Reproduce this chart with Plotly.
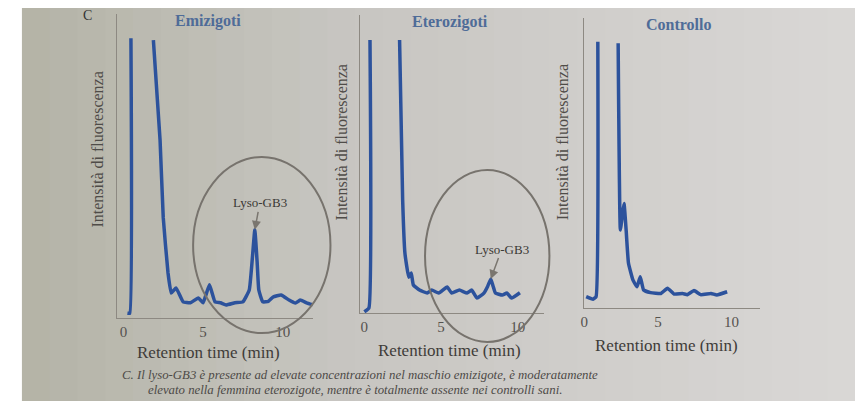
import plotly.graph_objects as go

# ---------------- data ----------------
panel_titles = ["Emizigoti", "Eterozigoti", "Controllo"]
x_tick_vals = [0, 5, 10]
x_tick_text = ["0", "5", "10"]
x_title = "Retention time (min)"
y_title = "Intensità di fluorescenza"
peak_label = "Lyso-GB3"

# Emizigoti (retention time in min, fluorescence in arbitrary units 0-100)
emi_t = [0.25, 0.40, 0.47, None, 1.88, 2.3, 2.5, 2.8, 3.0, 3.3, 3.75, 4.2, 4.7, 5.0, 5.4,
         5.75, 6.1, 6.45, 7.0, 7.5, 7.9, 8.1, 8.25, 8.4, 8.5, 8.75, 9.1, 9.4, 9.9, 10.4,
         10.8, 11.1, 11.5, 11.9]
emi_v = [1.6, 1.6, 92, None, 91.4, 58.5, 33, 14.8, 8.2, 9.9, 5.3, 5.0, 6.6, 5.0, 10.9,
         5.3, 5.0, 4.3, 5.0, 5.3, 9.2, 20, 29, 18, 9.2, 5.3, 5.5, 6.9, 7.6, 5.9,
         4.9, 5.9, 5.0, 4.3]

# Eterozigoti
etero_t = [0.0, 0.3, 0.37, None, 2.3, 2.5, 2.65, 2.9, 3.06, 3.2, 3.6, 4.1, 4.4, 4.85, 5.4,
           5.7, 6.2, 6.7, 7.0, 7.35, 7.8, 8.05, 8.25, 8.4, 8.55, 9.0, 9.3, 9.6, 10.15]
etero_v = [0.4, 1.7, 91.6, None, 91.6, 38, 20, 12, 13.4, 9.4, 7.7, 6.7, 7.7, 6.7, 8.7,
           6.7, 7.7, 6.7, 7.7, 5.0, 6.7, 9.0, 11.4, 9.0, 6.7, 6.0, 6.7, 5.0, 6.8]

# Controllo
ctrl_t = [0.13, 0.59, 0.8, 0.92, None, 2.3, 2.45, 2.6, 2.7, 2.84, 3.0, 3.3, 3.58, 3.8, 4.03,
          4.5, 5.2, 5.65, 6.1, 6.67, 7.0, 7.45, 7.9, 8.6, 9.0, 9.7]
ctrl_v = [3.9, 3.0, 3.9, 91.8, None, 91.3, 26.9, 32.7, 36, 27, 15.5, 9.7, 7.3, 10.8, 6.2,
          5.3, 5.0, 6.8, 4.8, 5.0, 4.6, 6.0, 4.6, 5.0, 4.5, 5.6]

# Lyso-GB3 peak positions (min, intensity)
lyso_emi = (8.25, 29)
lyso_etero = (8.25, 11.4)

caption_1 = "C. Il lyso-GB3 è presente ad elevate concentrazioni nel maschio emizigote, è moderatamente"
caption_2 = "elevato nella femmina eterozigote, mentre è totalmente assente nei controlli sani."

# ---------------- layout helpers ----------------
W, H = 855, 401
def px(x):
    return x / W
def py(y):
    return 1 - y / H

LINE = "#2c529c"
AX = "#8d8982"
SERIF = "Liberation Serif"

fig = go.Figure()
series = [(emi_t, emi_v), (etero_t, etero_v), (ctrl_t, ctrl_v)]
for i, (t, v) in enumerate(series):
    ax_id = "" if i == 0 else str(i + 1)
    fig.add_trace(go.Scatter(
        x=t, y=v, mode="lines", connectgaps=False,
        line=dict(color=LINE, width=3.5, shape="spline", smoothing=0.35),
        xaxis="x" + ax_id, yaxis="y" + ax_id, showlegend=False, hoverinfo="skip"))

# panel geometry (screen pixels): x-axis left/right, y-axis top/bottom, x-range
panels = [
    dict(xl=114, xr=310, yt=14, yb=318, xrange=[-0.375, 11.875]),
    dict(xl=358, xr=543, yt=15, yb=313, xrange=[-0.26, 11.75]),
    dict(xl=583, xr=760, yt=18, yb=308, xrange=[0.0, 11.96]),
]

layout = dict(
    width=W, height=H, margin=dict(l=0, r=0, t=0, b=0),
    paper_bgcolor="white", plot_bgcolor="rgba(0,0,0,0)",
    font=dict(family=SERIF, color="#4a4744"),
    showlegend=False,
)
for i, p in enumerate(panels):
    sfx = "" if i == 0 else str(i + 1)
    layout["xaxis" + sfx] = dict(
        domain=[px(p["xl"]), px(p["xr"])], range=p["xrange"], anchor="y" + sfx,
        showline=True, linecolor=AX, linewidth=1, showgrid=False, zeroline=False,
        ticks="", tickvals=x_tick_vals, ticktext=x_tick_text,
        tickfont=dict(family=SERIF, size=15, color="#55524e"), fixedrange=True)
    layout["yaxis" + sfx] = dict(
        domain=[py(p["yb"]), py(p["yt"])], range=[0, 100], anchor="x" + sfx,
        showline=True, linecolor=AX, linewidth=1, showgrid=False, zeroline=False,
        showticklabels=False, ticks="", fixedrange=True)
fig.update_layout(**layout)

# ---------------- paper background (photo tone, horizontal gradient) ----------------
shapes = []
stops = [(18, (180, 179, 166)), (325, (198, 197, 192)), (855, (217, 215, 214))]
n = 30
x_start, x_end = 18, 855
for k in range(n):
    xa = x_start + (x_end - x_start) * k / n
    xb = x_start + (x_end - x_start) * (k + 1) / n + 1
    xm = (xa + xb) / 2
    if xm <= stops[1][0]:
        f = (xm - stops[0][0]) / (stops[1][0] - stops[0][0])
        ca, cb = stops[0][1], stops[1][1]
    else:
        f = min(1.0, (xm - stops[1][0]) / (stops[2][0] - stops[1][0]))
        ca, cb = stops[1][1], stops[2][1]
    col = tuple(int(round(ca[j] + (cb[j] - ca[j]) * f)) for j in range(3))
    shapes.append(dict(type="rect", xref="paper", yref="paper",
                       x0=max(0, px(xa)), x1=min(1, px(xb)), y0=0, y1=py(8),
                       fillcolor="rgb(%d,%d,%d)" % col, line=dict(width=0), layer="below"))

# ellipses highlighting Lyso-GB3
shapes.append(dict(type="circle", xref="paper", yref="paper",
                   x0=px(190), x1=px(328), y0=py(333), y1=py(157),
                   line=dict(color="#77736d", width=2), fillcolor="rgba(0,0,0,0)"))
shapes.append(dict(type="circle", xref="paper", yref="paper",
                   x0=px(423), x1=px(548), y0=py(342), y1=py(170),
                   line=dict(color="#77736d", width=2), fillcolor="rgba(0,0,0,0)"))
fig.update_layout(shapes=shapes)

# ---------------- annotations ----------------
ann = []
title_x = [205, 448, 678]
title_y = [21, 22, 24]
ytitle_x = [93, 340, 562]
ytitle_y = [150, 142, 142]
xtitle_x = [205, 448, 666]
xtitle_y = [352, 350, 345]
for i in range(3):
    ann.append(dict(text="<b>%s</b>" % panel_titles[i], x=px(title_x[i]), y=py(title_y[i]),
                    xref="paper", yref="paper", xanchor="center", yanchor="middle",
                    showarrow=False, font=dict(family=SERIF, size=16, color="#4f6c98")))
    ann.append(dict(text=y_title, x=px(ytitle_x[i]), y=py(ytitle_y[i]), textangle=-90,
                    xref="paper", yref="paper", xanchor="center", yanchor="middle",
                    showarrow=False, font=dict(family=SERIF, size=16, color="#4f4c48")))
    ann.append(dict(text=x_title, x=px(xtitle_x[i]), y=py(xtitle_y[i]),
                    xref="paper", yref="paper", xanchor="center", yanchor="middle",
                    showarrow=False, font=dict(family=SERIF, size=17, color="#3f3c39")))

ann.append(dict(text=peak_label, x=lyso_emi[0], y=lyso_emi[1], xref="x", yref="y",
                ax=5, ay=-27, showarrow=True, arrowhead=2, arrowsize=1.2, arrowwidth=1.5,
                arrowcolor="#7a766f", font=dict(family=SERIF, size=13, color="#3b3835")))
ann.append(dict(text=peak_label, x=lyso_etero[0], y=lyso_etero[1], xref="x2", yref="y2",
                ax=11, ay=-30, showarrow=True, arrowhead=2, arrowsize=1.2, arrowwidth=1.5,
                arrowcolor="#7a766f", font=dict(family=SERIF, size=13, color="#3b3835")))

ann.append(dict(text="<i>%s</i>" % caption_1, x=px(117), y=py(375), xanchor="left",
                yanchor="middle", xref="paper", yref="paper", showarrow=False,
                font=dict(family=SERIF, size=12.8, color="#4d4a47")))
ann.append(dict(text="<i>%s</i>" % caption_2, x=px(143), y=py(390), xanchor="left",
                yanchor="middle", xref="paper", yref="paper", showarrow=False,
                font=dict(family=SERIF, size=12.8, color="#4d4a47")))
ann.append(dict(text="C", x=px(84), y=py(15), xref="paper", yref="paper", showarrow=False,
                xanchor="center", yanchor="middle",
                font=dict(family=SERIF, size=14, color="#333")))
fig.update_layout(annotations=ann)

fig.write_html(
    "out.html",
    config={"displayModeBar": False},
    post_script="document.body.style.margin='0';document.body.style.overflow='hidden';",
)
